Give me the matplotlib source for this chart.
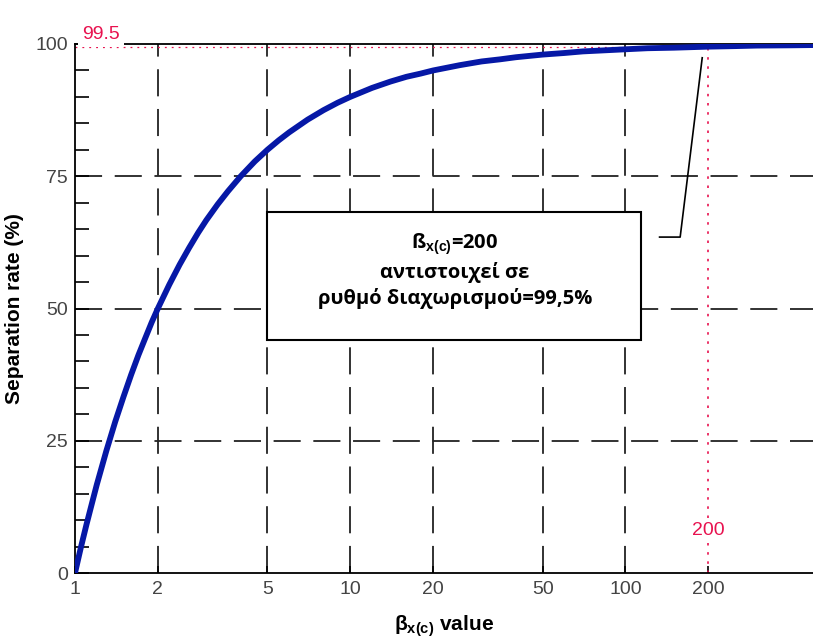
import numpy as np
import matplotlib.pyplot as plt
from matplotlib.patches import Rectangle
from matplotlib.ticker import FixedLocator, NullFormatter

plt.rcParams['font.family'] = ['Liberation Sans', 'DejaVu Sans']
plt.rcParams['mathtext.fontset'] = 'custom'
plt.rcParams['mathtext.bf'] = 'Liberation Sans:bold'
plt.rcParams['mathtext.rm'] = 'Liberation Sans'

# valeurs
beta = [1, 1.05, 1.1, 1.15, 1.2, 1.3, 1.4, 1.5, 1.6, 1.7, 1.8, 1.9, 2, 2.2,
        2.4, 2.6, 2.8, 3, 3.3, 3.6, 4, 4.5, 5, 5.5, 6, 7, 8, 9, 10, 12, 14,
        16, 18, 20, 25, 30, 35, 40, 50, 60, 70, 80, 100, 120, 150, 200, 250,
        300, 400, 480]
taux = [0, 4.8, 9.1, 13.0, 16.7, 23.1, 28.6, 33.3, 37.5, 41.2, 44.4, 47.4,
        50, 54.5, 58.3, 61.5, 64.3, 66.7, 69.7, 72.2, 75, 77.8, 80, 81.8,
        83.3, 85.7, 87.5, 88.9, 90, 91.7, 92.9, 93.8, 94.4, 95, 96, 96.7,
        97.1, 97.5, 98, 98.3, 98.6, 98.75, 99, 99.2, 99.3, 99.5, 99.6, 99.7,
        99.75, 99.8]

x_ticks = [1, 2, 5, 10, 20, 50, 100, 200]
x_grid = [2, 5, 10, 20, 50, 100]
y_ticks = [0, 25, 50, 75, 100]
y_grid = [25, 50, 75]

beta_ref = 200
taux_ref = 99.5

rouge = '#e8124f'
bleu = '#0618a6'

fig = plt.figure(figsize=(8.13, 6.41), dpi=100)
ax = fig.add_axes([75 / 813, 68 / 641, 738 / 813, 529 / 641])

ax.set_xscale('log')
ax.set_xlim(1, 480)
ax.set_ylim(0, 100)

# grille en tirets longs
for xv in x_grid:
    ax.axvline(xv, color='#222222', lw=1.3, dashes=(15, 7), zorder=1)
for yv in y_grid:
    ax.axhline(yv, color='#222222', lw=1.3, dashes=(15, 7), zorder=1)

# repères rouges pour beta = 200
ax.plot([1, beta_ref], [taux_ref, taux_ref], color=rouge, lw=0.9,
        ls=(0, (1.5, 4)), zorder=2)
ax.plot([beta_ref, beta_ref], [0, taux_ref], color=rouge, lw=1.2,
        ls=(0, (1.5, 4)), zorder=2)

# courbe
ax.plot(beta, taux, color=bleu, lw=4.2, solid_capstyle='butt',
        solid_joinstyle='round', zorder=3)

# axes
ax.set_xticks(x_ticks)
ax.set_xticklabels([str(v) for v in x_ticks])
ax.xaxis.set_minor_locator(FixedLocator([]))
ax.xaxis.set_minor_formatter(NullFormatter())
ax.set_yticks(y_ticks)
ax.yaxis.set_minor_locator(FixedLocator(np.arange(0, 101, 5)))
ax.tick_params(axis='x', which='major', direction='in', length=5, width=1.2,
               labelsize=14, labelcolor='#444444', pad=6)
ax.tick_params(axis='y', which='both', direction='in', length=10, width=1.2,
               labelsize=14, labelcolor='#444444', pad=5)
for s in ['left', 'bottom', 'top']:
    ax.spines[s].set_linewidth(1.3)
ax.spines['right'].set_visible(False)

ax.set_ylabel('Separation rate (%)', fontsize=15, fontweight='bold',
              labelpad=8)
ax.set_xlabel(r'$\mathbf{\beta_{x(c)}}$ value', fontsize=15,
              fontweight='bold', labelpad=11)

# étiquettes rouges
ax.text(1.06, taux_ref + 2.3, '99.5', color=rouge, fontsize=14, ha='left',
        va='center', zorder=5,
        bbox=dict(facecolor='white', edgecolor='none', pad=3))
ax.text(beta_ref, 8.1, '200', color=rouge, fontsize=14, ha='center',
        va='center', zorder=5,
        bbox=dict(facecolor='white', edgecolor='none', pad=2))

# encadré
ax.add_patch(Rectangle((5.0, 44.0), 114 - 5.0, 68.2 - 44.0, facecolor='white',
                       edgecolor='black', lw=1.5, zorder=6))
txt = 'ß$_{\\mathbf{x(c)}}$=200\nαντιστοιχεί σε\nρυθμό διαχωρισμού=99,5%'
ax.text(24, 57.2, txt, fontsize=14.5, fontweight='bold', ha='center',
        va='center', linespacing=1.3, zorder=7,
        family=['Open Sans', 'DejaVu Sans'])

# trait de rappel
ax.plot([133, 158, 190], [63.5, 63.5, 97.4], color='black', lw=1.2, zorder=6)

fig.savefig('out.png', dpi=100)
